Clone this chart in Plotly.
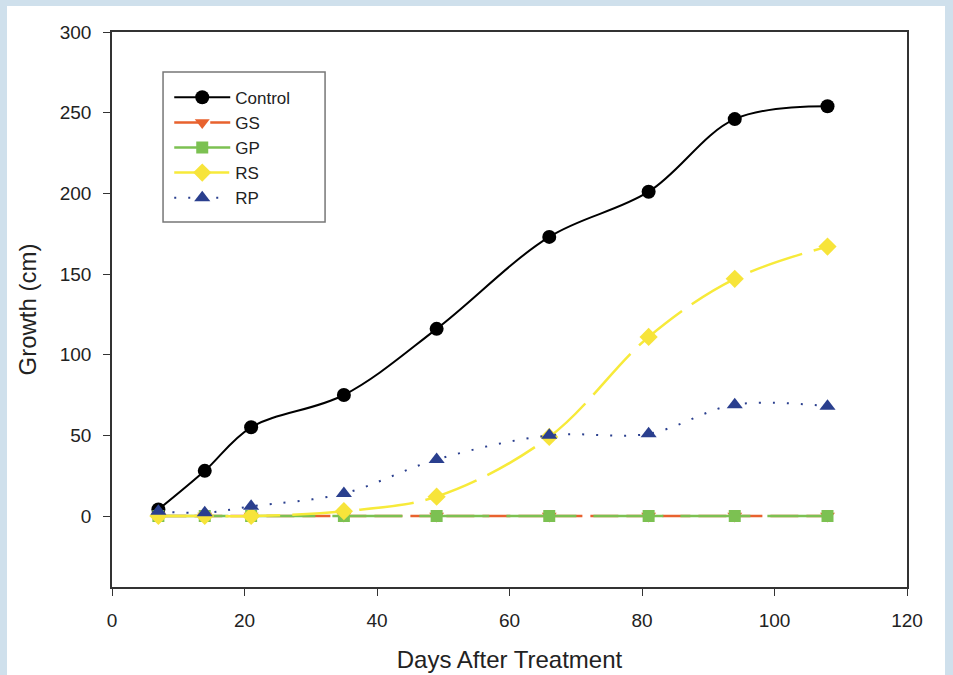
import plotly.graph_objects as go

days = [7, 14, 21, 35, 49, 66, 81, 94, 108]
control = [4, 28, 55, 75, 116, 173, 201, 246, 254]
gs = [0, 0, 0, 0, 0, 0, 0, 0, 0]
gp = [0, 0, 0, 0, 0, 0, 0, 0, 0]
rs = [0, 0, 0, 3, 12, 49, 111, 147, 167]
rp = [3, 2, 6, 14, 35, 50, 51, 69, 68]

x_ticks = [0, 20, 40, 60, 80, 100, 120]
y_ticks = [0, 50, 100, 150, 200, 250, 300]

fig = go.Figure()
fig.add_trace(go.Scatter(x=days, y=control, name="Control", mode="lines+markers", legendgroup="a",
                         line=dict(color="black", width=2, shape="spline", smoothing=1.0),
                         marker=dict(symbol="circle", size=14, color="black")))
fig.add_trace(go.Scatter(x=days, y=gs, name="GS", mode="lines+markers", legendgroup="b",
                         line=dict(color="#e8622e", width=2.5, dash="28px,8px"),
                         marker=dict(symbol="triangle-down", size=13, color="#e8622e")))
fig.add_trace(go.Scatter(x=days, y=gp, name="GP", mode="lines+markers", legendgroup="c",
                         line=dict(color="#7cc152", width=2.5, dash="70px,17px"),
                         marker=dict(symbol="square", size=12, color="#7cc152")))
fig.add_trace(go.Scatter(x=days, y=rs, name="RS", mode="lines+markers", legendgroup="d",
                         line=dict(color="#f7ea3a", width=2.5, dash="55px,12px", shape="spline", smoothing=1.0),
                         marker=dict(symbol="diamond", size=14, color="#f7e43a")))
fig.add_trace(go.Scatter(x=days, y=rp, name="RP", mode="lines+markers", legendgroup="e",
                         line=dict(color="#2a3f8e", width=2, dash="2px,12px", shape="spline", smoothing=1.0),
                         marker=dict(symbol="triangle-up", size=14, color="#2a3f8e")))

# white card behind the chart
fig.add_shape(type="rect", xref="paper", yref="paper", x0=-0.1321, x1=1.0478, y0=-0.2, y1=1.0468,
              fillcolor="white", line=dict(width=0), layer="below")
# legend frame
fig.add_shape(type="rect", xref="paper", yref="paper", x0=0.0642, x1=0.268, y0=0.6577, y1=0.928,
              fillcolor="rgba(0,0,0,0)", line=dict(color="#777777", width=1.5), layer="below")

axis_common = dict(showgrid=False, zeroline=False, showline=True, linecolor="#333333", linewidth=1.5,
                   mirror=True, ticks="outside", ticklen=7, tickcolor="#333333",
                   tickfont=dict(family="Liberation Sans, Arial", size=19, color="#222222"))

fig.update_layout(
    width=953, height=675,
    paper_bgcolor="#cfe0ec", plot_bgcolor="white",
    margin=dict(l=112, r=46, t=32, b=88),
    font=dict(family="Liberation Sans, Arial", color="#222222"),
    xaxis=dict(range=[0, 120], tickvals=x_ticks, ticklabelstandoff=8, automargin=False, **axis_common,
               title=dict(text="Days After Treatment", font=dict(size=24), standoff=22)),
    yaxis=dict(range=[-44, 300], tickvals=y_ticks, ticklabelstandoff=8, automargin=False, **axis_common,
               title=dict(text="Growth (cm)", font=dict(size=24), standoff=16)),
    legend=dict(x=0.072, y=0.914, xanchor="left", yanchor="top", bgcolor="rgba(0,0,0,0)",
                borderwidth=0, font=dict(size=17, color="#222222"),
                itemwidth=56, tracegroupgap=0),
    showlegend=True,
)

fig.write_html("out.html", config={"displayModeBar": False},
               post_script="document.body.style.margin='0px';")
